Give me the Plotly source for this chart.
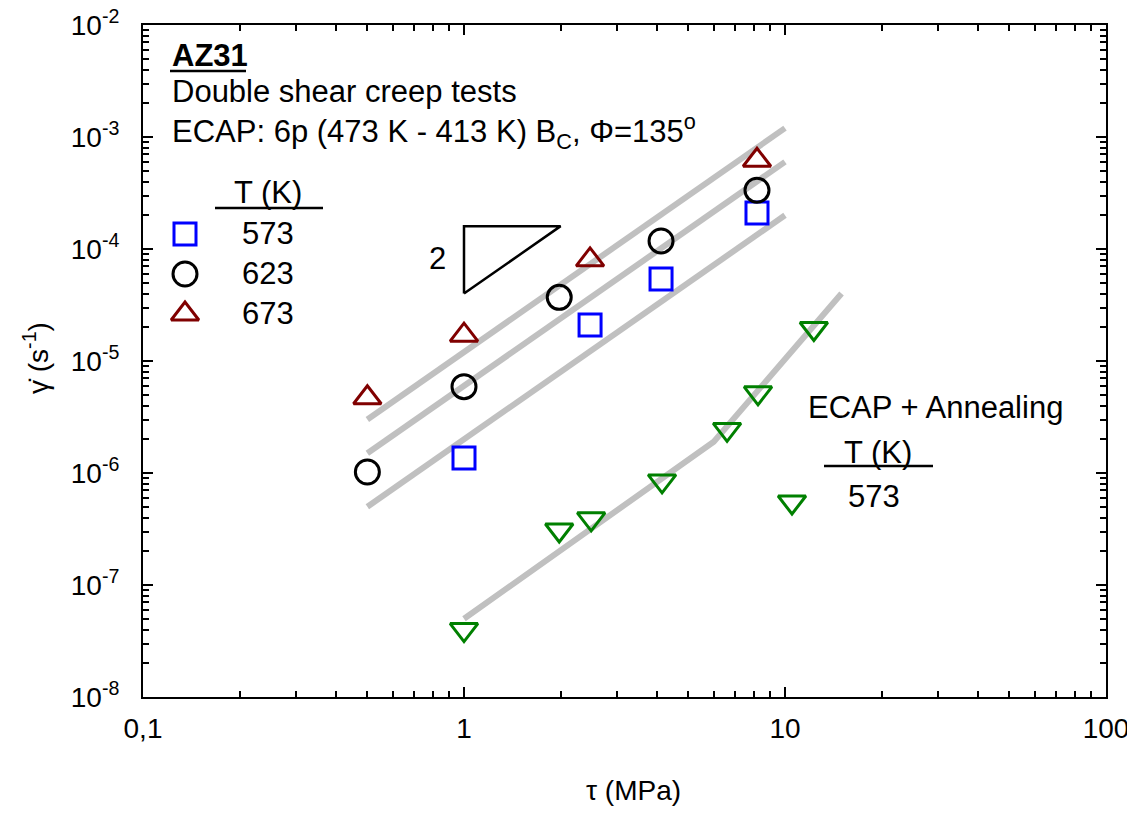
import plotly.graph_objects as go

# ---------------- data ----------------
tau_573 = [1.0, 2.47, 4.11, 8.18]
rate_573 = [1.36e-6, 2.1e-5, 5.4e-5, 2.1e-4]

tau_623 = [0.5, 1.0, 1.98, 4.11, 8.18]
rate_623 = [1.02e-6, 5.9e-6, 3.7e-5, 1.18e-4, 3.35e-4]

tau_673 = [0.5, 1.0, 2.47, 8.18]
rate_673 = [4.7e-6, 1.7e-5, 8.0e-5, 6.2e-4]

tau_ann = [1.0, 1.98, 2.49, 4.14, 6.6, 8.24, 12.3]
rate_ann = [4.0e-8, 3.1e-7, 3.9e-7, 8.5e-7, 2.45e-6, 5.2e-6, 1.95e-5]

fit_tau = [0.5, 10]
fit_573 = [5e-7, 2e-4]
fit_623 = [1.5e-6, 6e-4]
fit_673 = [3e-6, 1.2e-3]
fit_ann_tau = [1, 6, 15]
fit_ann_rate = [5e-8, 1.9e-6, 4e-5]

slope_tau = [1, 1, 2, 1]
slope_rate = [4e-5, 1.6e-4, 1.6e-4, 4e-5]

x_tickvals = [0.1, 1, 10, 100]
x_ticktext = ["0,1", "1", "10", "100"]
y_exponents = [-8, -7, -6, -5, -4, -3, -2]

# ---------------- layout helpers ----------------
# page has an 8px body margin; figure sized so that it fits the window
OFF = 8
W, H = 1127, 801
L, R, T, B = 143, 1106, 25, 697          # plot area in page pixels
FONT = "Liberation Sans, Arial, sans-serif"
FS = 31
FS_AX = 28


def ax(x):
    return (x - L) / (R - L)


def ay(y):
    return (B - y) / (B - T)


GRAY = "#c0c0c0"
BLUE = "#0000ff"
BLACK = "#000000"
RED = "#800000"
GREEN = "#008000"

fig = go.Figure()

# fit lines
for ys in (fit_573, fit_623, fit_673):
    fig.add_trace(go.Scatter(x=fit_tau, y=ys, mode="lines",
                             line=dict(color=GRAY, width=6), showlegend=False,
                             hoverinfo="skip"))
fig.add_trace(go.Scatter(x=fit_ann_tau, y=fit_ann_rate, mode="lines",
                         line=dict(color=GRAY, width=6), showlegend=False,
                         hoverinfo="skip"))

# slope triangle
fig.add_trace(go.Scatter(x=slope_tau, y=slope_rate, mode="lines",
                         line=dict(color=BLACK, width=2.5), showlegend=False,
                         hoverinfo="skip"))

MS = 22
MLW = 3
fig.add_trace(go.Scatter(x=tau_573, y=rate_573, mode="markers", name="573",
                         marker=dict(symbol="square-open", size=MS, color=BLUE,
                                     line=dict(color=BLUE, width=MLW))))
fig.add_trace(go.Scatter(x=tau_623, y=rate_623, mode="markers", name="623",
                         marker=dict(symbol="circle-open", size=MS + 2, color=BLACK,
                                     line=dict(color=BLACK, width=MLW))))
fig.add_trace(go.Scatter(x=tau_673, y=rate_673, mode="markers", name="673",
                         marker=dict(symbol="triangle-up-open", size=MS + 2, color=RED,
                                     line=dict(color=RED, width=MLW))))
fig.add_trace(go.Scatter(x=tau_ann, y=rate_ann, mode="markers", name="573 ann",
                         marker=dict(symbol="triangle-down-open", size=MS + 2, color=GREEN,
                                     line=dict(color=GREEN, width=MLW))))

# legend symbols drawn on a hidden overlay axis (plot-area fraction coordinates)
leg_x = [ax(185), ax(185), ax(185), ax(792)]
leg_y = [ay(234), ay(274), ay(314), ay(502)]
leg_sym = ["square-open", "circle-open", "triangle-up-open", "triangle-down-open"]
leg_col = [BLUE, BLACK, RED, GREEN]
leg_size = [MS, MS + 2, MS + 2, MS + 2]
for xx, yy, s, c, sz in zip(leg_x, leg_y, leg_sym, leg_col, leg_size):
    fig.add_trace(go.Scatter(x=[xx], y=[yy], mode="markers", xaxis="x2", yaxis="y2",
                             marker=dict(symbol=s, size=sz, color=c,
                                         line=dict(color=c, width=MLW)),
                             showlegend=False, hoverinfo="skip"))


def minor_vals(lo, hi):
    out = []
    for e in range(lo, hi):
        for m in range(2, 10):
            out.append(m * 10 ** e)
    return out


axis_common = dict(
    type="log", showgrid=False, zeroline=False,
    ticks="inside", ticklen=10, tickwidth=2, tickcolor=BLACK,
    showline=True, linewidth=2, linecolor=BLACK, mirror="allticks",
    ticklabeloverflow="allow",
    tickfont=dict(family=FONT, size=FS_AX, color=BLACK),
)

fig.update_layout(
    width=W, height=H,
    margin=dict(l=L - OFF, r=W - (R - OFF), t=T - OFF, b=H - (B - OFF), autoexpand=False),
    plot_bgcolor="white", paper_bgcolor="white",
    showlegend=False,
    font=dict(family=FONT, size=FS, color=BLACK),
    xaxis=dict(axis_common, range=[-1, 2], tickvals=x_tickvals, ticktext=x_ticktext,
               ticklabelstandoff=5,
               minor=dict(tickvals=minor_vals(-1, 2), ticks="inside", ticklen=6,
                          tickwidth=1.5, tickcolor=BLACK, showgrid=False)),
    yaxis=dict(axis_common, range=[-8, -2],
               tickvals=[10.0 ** e for e in y_exponents],
               ticktext=["10<sup>%d</sup>" % e for e in y_exponents],
               ticklabelstandoff=16,
               minor=dict(tickvals=minor_vals(-8, -2), ticks="inside", ticklen=6,
                          tickwidth=1.5, tickcolor=BLACK, showgrid=False)),
    xaxis2=dict(overlaying="x", anchor="y2", range=[0, 1], visible=False),
    yaxis2=dict(overlaying="y", anchor="x2", range=[0, 1], visible=False),
)

anns = [
    ("<b>AZ31</b>", 170, 56, "left", FS),
    ("Double shear creep tests", 170, 92, "left", FS),
    ("ECAP: 6p (473 K - 413 K) B<sub>C</sub>, \u03a6=135<sup>o</sup>", 170, 131, "left", FS),
    ("T (K)", 268, 192, "center", FS),
    ("573", 240, 233, "left", FS),
    ("623", 240, 273, "left", FS),
    ("673", 240, 313, "left", FS),
    ("2", 437, 258, "center", FS),
    ("ECAP + Annealing", 806, 407, "left", FS),
    ("T (K)", 878, 452, "center", FS),
    ("573", 846, 497, "left", FS),
    ("\u03c4 (MPa)", 633, 790, "center", FS_AX),
]
for text, x, y, xa, fs in anns:
    fig.add_annotation(text=text, x=ax(x), y=ay(y), xref="paper", yref="paper",
                       xanchor=xa, yanchor="middle", showarrow=False,
                       font=dict(family=FONT, size=fs, color=BLACK))

fig.add_annotation(text="\u03b3\u0307 (s<sup>-1</sup>)", x=ax(36), y=ay(358),
                   xref="paper", yref="paper", xanchor="center", yanchor="middle",
                   textangle=-90, showarrow=False,
                   font=dict(family=FONT, size=FS_AX, color=BLACK))

# underlines
for x0, x1, y in [(170, 246, 71), (215, 323, 208), (824, 933, 466)]:
    fig.add_shape(type="line", xref="paper", yref="paper",
                  x0=ax(x0), x1=ax(x1), y0=ay(y), y1=ay(y),
                  line=dict(color=BLACK, width=2.5))

fig.write_html("out.html")
